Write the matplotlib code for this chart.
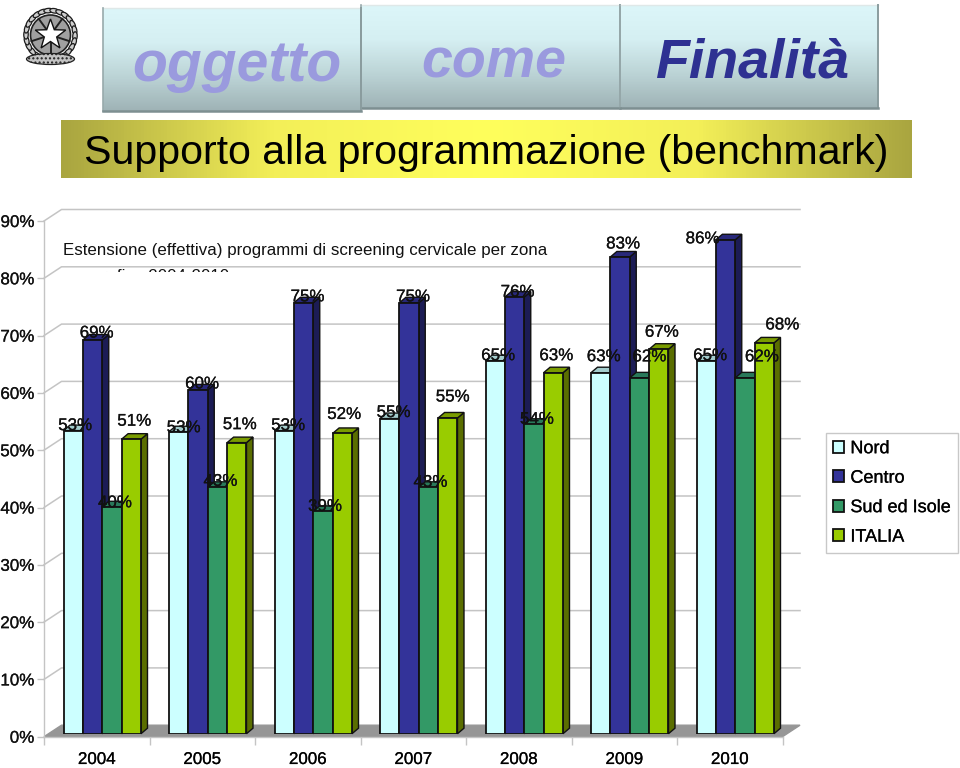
import numpy as np
import matplotlib
matplotlib.use('Agg')
import matplotlib.pyplot as plt
import matplotlib.patheffects as pe
from matplotlib.patches import Rectangle, Polygon, Ellipse, Circle

plt.rcParams['font.family'] = ['Liberation Sans', 'DejaVu Sans']

# data
years = ['2004', '2005', '2006', '2007', '2008', '2009', '2010']
series_names = ['Nord', 'Centro', 'Sud ed Isole', 'ITALIA']
nord = [52.9, 52.7, 52.9, 55.0, 65.1, 63.0, 65.1]
centro = [68.7, 60.0, 75.2, 75.2, 76.2, 83.2, 86.2]
sud = [39.6, 43.0, 38.8, 43.0, 54.0, 62.1, 62.1]
italia = [51.4, 50.8, 52.4, 55.1, 63.0, 67.1, 68.2]
y_ticks = [0, 10, 20, 30, 40, 50, 60, 70, 80, 90]

# label shifts from bar top, in pixels
nord_off = [(2, 5), (5, 4), (4, 5), (4, 6), (3, 5), (3, 16), (4, 5)]
centro_off = [(4, 7), (4, 6), (4, 6), (4, 6), (3, 5), (3, 13), (-23, 1)]
sud_off = [(3, 4), (3, 6), (2, 5), (2, 5), (3, 5), (10, 21), (17, 21)]
italia_off = [(3, 18), (3, 18), (2, 19), (5, 21), (3, 17), (3, 17), (18, 18)]

front = ['#ccffff', '#333399', '#339966', '#99cc00']
side = ['#8fb3b3', '#1c1c55', '#1f5c3d', '#5a6e00']
top = ['#a3cccc', '#28287a', '#29795a', '#7a9c00']
W, H = 960, 768
grid_col = '#c4c4c4'
heavy = [pe.withStroke(linewidth=0.18, foreground='#111111')]


def px_axes(x0, y0, x1, y1, **kw):
    # axes from pixel box, y counted from the top
    return fig.add_axes([x0 / W, 1 - y1 / H, (x1 - x0) / W, (y1 - y0) / H], **kw)


fig = plt.figure(figsize=(9.6, 7.68), dpi=100, facecolor='white')

# header, banner and emblem
bg = fig.add_axes([0, 0, 1, 1], zorder=0)
bg.axis('off')

vgrad = np.linspace(0, 1, 64).reshape(-1, 1)
tab_cmap = matplotlib.colors.LinearSegmentedColormap.from_list(
    'tab', ['#dcf6f9', '#d5eff2', '#bcd4d6', '#9fb3b6'])
hcmap = matplotlib.colors.LinearSegmentedColormap.from_list(
    'banner', ['#a9a540', '#f3ef58', '#ffff5c', '#f3ef58', '#a9a540'])

for x0, x1, y0, y1 in [(361, 620, 5, 108), (620, 878, 5, 108), (103, 361, 8, 111)]:
    bg.imshow(vgrad, extent=(x0, x1, y1, y0), cmap=tab_cmap, aspect='auto', zorder=1)
    bg.plot([x0, x1], [y0, y0], color='#dfe8e8', lw=1, zorder=2)
    bg.plot([x0, x0], [y0, y1], color='#98aaac', lw=1.2, zorder=2)
    bg.plot([x1, x1], [y0, y1], color='#8a9c9e', lw=1.4, zorder=2)
    bg.plot([x0, x1], [y1, y1], color='#7d8f91', lw=1.8, zorder=2)

bg.imshow(np.linspace(0, 1, 256).reshape(1, -1), extent=(61, 912, 178, 120), cmap=hcmap,
          aspect='auto', zorder=1)
bg.text(486, 152.5, 'Supporto alla programmazione (benchmark)', fontsize=29.6, ha='center',
        va='center', color='black', zorder=3)
tab_font = dict(fontweight='bold', fontstyle='italic', ha='center', va='baseline', zorder=3)
bg.text(236.5, 81, 'oggetto', color='#9a9ade', fontsize=41, **tab_font)
bg.text(494, 78, 'come', color='#9a9ade', fontsize=40, **tab_font)
bg.text(752, 78, 'Finalità', color='#2e3192', fontsize=40, **tab_font)

# emblem
cx, cy = 50.5, 35
for a in np.radians(np.arange(-235, 60, 14)):
    bg.add_patch(Ellipse((cx + 24.5 * np.cos(a), cy + 24.5 * np.sin(a)), 9, 4.5, angle=np.degrees(a) + 90,
                         fc='#cfcfcf', ec='#1c1c1c', lw=0.9, zorder=2))
bg.add_patch(Circle((cx, cy), 20, fc='#a0a0a0', ec='#222222', lw=1.2, zorder=2))
for a in np.radians(np.arange(-90, 270, 72) + 36):
    bg.plot([cx + 8 * np.cos(a), cx + 20 * np.cos(a)], [cy + 8 * np.sin(a), cy + 20 * np.sin(a)],
            color='#222222', lw=1.4, zorder=2)
ang = np.radians(np.arange(0, 360, 36) - 90)
rad = np.where(np.arange(10) % 2 == 0, 16, 6.5)
bg.add_patch(Polygon(np.column_stack([cx + rad * np.cos(ang), cy + rad * np.sin(ang)]),
                     fc='white', ec='#111111', lw=1, zorder=3))
bg.add_patch(Ellipse((cx, cy + 24), 48, 11, fc='#c4c4c4', ec='#222222', lw=0.9, hatch='....', zorder=2))

# chart title, second line is cut by the box in front of it
bg.text(305, 251, 'Estensione (effettiva) programmi di screening cervicale per zona', fontsize=12.2,
        ha='center', va='center', color='#111111', zorder=3)
t2 = bg.text(229, 281.5, 'geografica 2004-2010', fontsize=12.2, ha='right', va='baseline',
             color='#111111', zorder=3)
t2.set_clip_on(True)
t2.set_clip_path(Rectangle((0, 0), W, 271.5, transform=bg.transData))

bg.set_xlim(0, W)
bg.set_ylim(H, 0)

# walls, floor and axis
ax = px_axes(44, 221, 782.5, 736.7, zorder=1)
ax.patch.set_alpha(0)
ax.set_xlim(0, 7)
ax.set_ylim(0, 90)
ax.set_xticks(range(8))
ax.set_xticklabels([])
ax.set_xticks(np.arange(7) + 0.5, labels=years, minor=True)
ax.tick_params(axis='x', which='major', length=6, color=grid_col, width=1)
ax.tick_params(axis='x', which='minor', length=0, labelsize=12.2, pad=11)
ax.set_yticks(y_ticks, labels=[f'{v}%' for v in y_ticks])
ax.tick_params(axis='y', length=5, color=grid_col, width=1, labelsize=12.2, pad=2, labelcolor='#111111')
for lab in ax.get_yticklabels() + ax.get_xticklabels(minor=True):
    lab.set_path_effects(heavy)
for s in ['top', 'right']:
    ax.spines[s].set_visible(False)
for s in ['left', 'bottom']:
    ax.spines[s].set_color(grid_col)
    ax.spines[s].set_linewidth(1)

wall_dx = 17.5 / (738.5 / 7)
wall_dy = 11.5 / (515.7 / 90)
ax.fill([0, wall_dx, 7 + wall_dx, 7], [0, wall_dy, wall_dy, 0], color='#969696', clip_on=False, zorder=1)
for v in y_ticks:
    if v == 0:
        continue
    ax.plot([0, wall_dx, 7 + wall_dx], [v, v + wall_dy, v + wall_dy], color=grid_col, lw=1.1,
            clip_on=False, zorder=0.5)

# bars, axes moved a bit to stand on the floor
bx = px_axes(49.5, 218, 788, 733.7, zorder=2)
bx.patch.set_alpha(0)
bx.axis('off')
bx.set_xlim(0, 7)
bx.set_ylim(0, 90)

x = np.arange(7) + 0.5
bw = 0.7345 / 4
dx = 6.5 / (738.5 / 7)
dy = 5.5 / (515.7 / 90)
all_series = [nord, centro, sud, italia]
all_off = [nord_off, centro_off, sud_off, italia_off]
handles = []
for i, vals in enumerate(all_series):
    xs = x + (i - 1.5) * bw
    z = 3 + i
    for xc, v in zip(xs, vals):
        l, r = xc - bw / 2, xc + bw / 2
        bx.fill([r, r + dx, r + dx, r], [0, dy, v + dy, v], fc=side[i], ec='#111111', lw=1, zorder=z, clip_on=False)
        bx.fill([l, l + dx, r + dx, r], [v, v + dy, v + dy, v], fc=top[i], ec='#111111', lw=1, zorder=z, clip_on=False)
    bars = bx.bar(xs, vals, bw, color=front[i], edgecolor='#111111', linewidth=1.3, zorder=z + 0.5,
                  label=series_names[i])
    handles.append(bars)
    for xc, v, off in zip(xs, vals, all_off[i]):
        bx.annotate(f'{round(v)}%', (xc, v), xytext=off, textcoords='offset pixels', ha='center',
                    va='center', fontsize=12.2, color='#111111', zorder=20, annotation_clip=False,
                    path_effects=heavy)

leg = fig.legend(handles=handles, loc='upper left', bbox_to_anchor=(826 / W, 1 - 433 / H), borderaxespad=0,
                 fontsize=13, frameon=True, fancybox=False, edgecolor='#c8c8c8', framealpha=1,
                 handlelength=0.62, handleheight=0.62, handletextpad=0.33, labelspacing=0.69,
                 borderpad=0.4)
leg.set_zorder(30)
for t in leg.get_texts():
    t.set_path_effects(heavy)

fig.savefig('out.png', dpi=100)
